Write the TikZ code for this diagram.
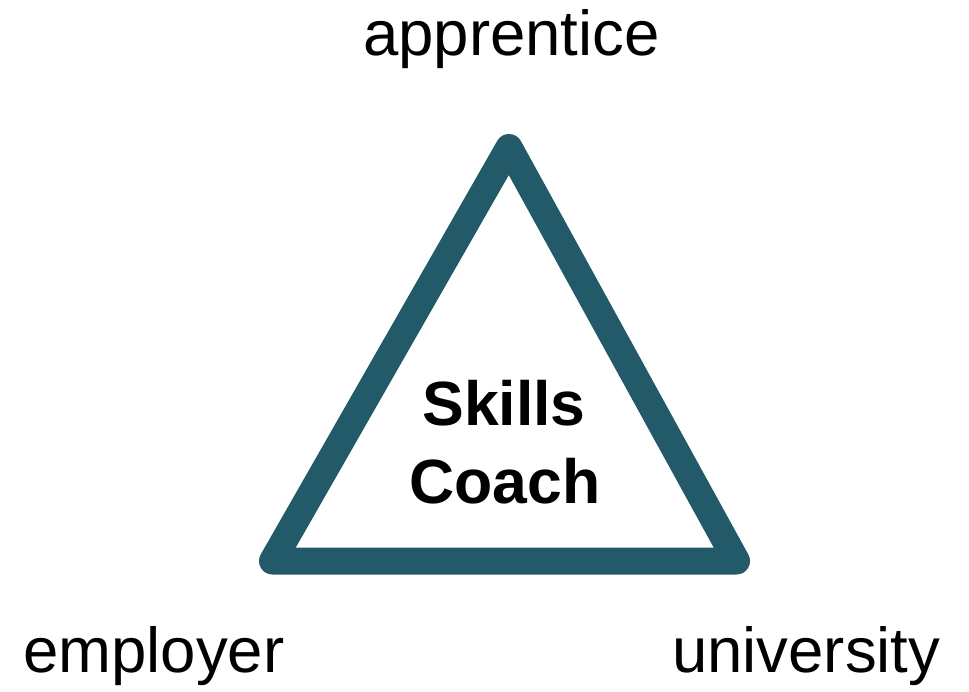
\documentclass[tikz,border=0pt]{standalone}
\usepackage{fontspec}
\setmainfont{Liberation Sans}
\definecolor{tri}{HTML}{225A69}
\begin{document}
\begin{tikzpicture}[x=1pt,y=-1pt,
  lbl/.style={font=\fontsize{63.5}{78}\selectfont, anchor=base west, inner sep=0pt},
  ctr/.style={font=\fontsize{62.5}{78}\selectfont\bfseries, anchor=base, inner sep=0pt}]
\useasboundingbox[fill=white] (0,0) rectangle (969,691);
\coordinate (A) at (509,147.5);
\coordinate (E) at (272.5,561);
\coordinate (U) at (736.5,561);
\draw[tri, line width=27pt, line join=round] (A) -- (E) -- (U) -- cycle;
\node[lbl] (ap) at (363,55) {apprentice};
\node[lbl] (em) at (23,672) {employer};
\node[lbl] (un) at (672,672) {university};
\node[ctr] (sk) at (504,425) {Skills};
\node[ctr] (co) at (505,503) {Coach};
\end{tikzpicture}
\end{document}
